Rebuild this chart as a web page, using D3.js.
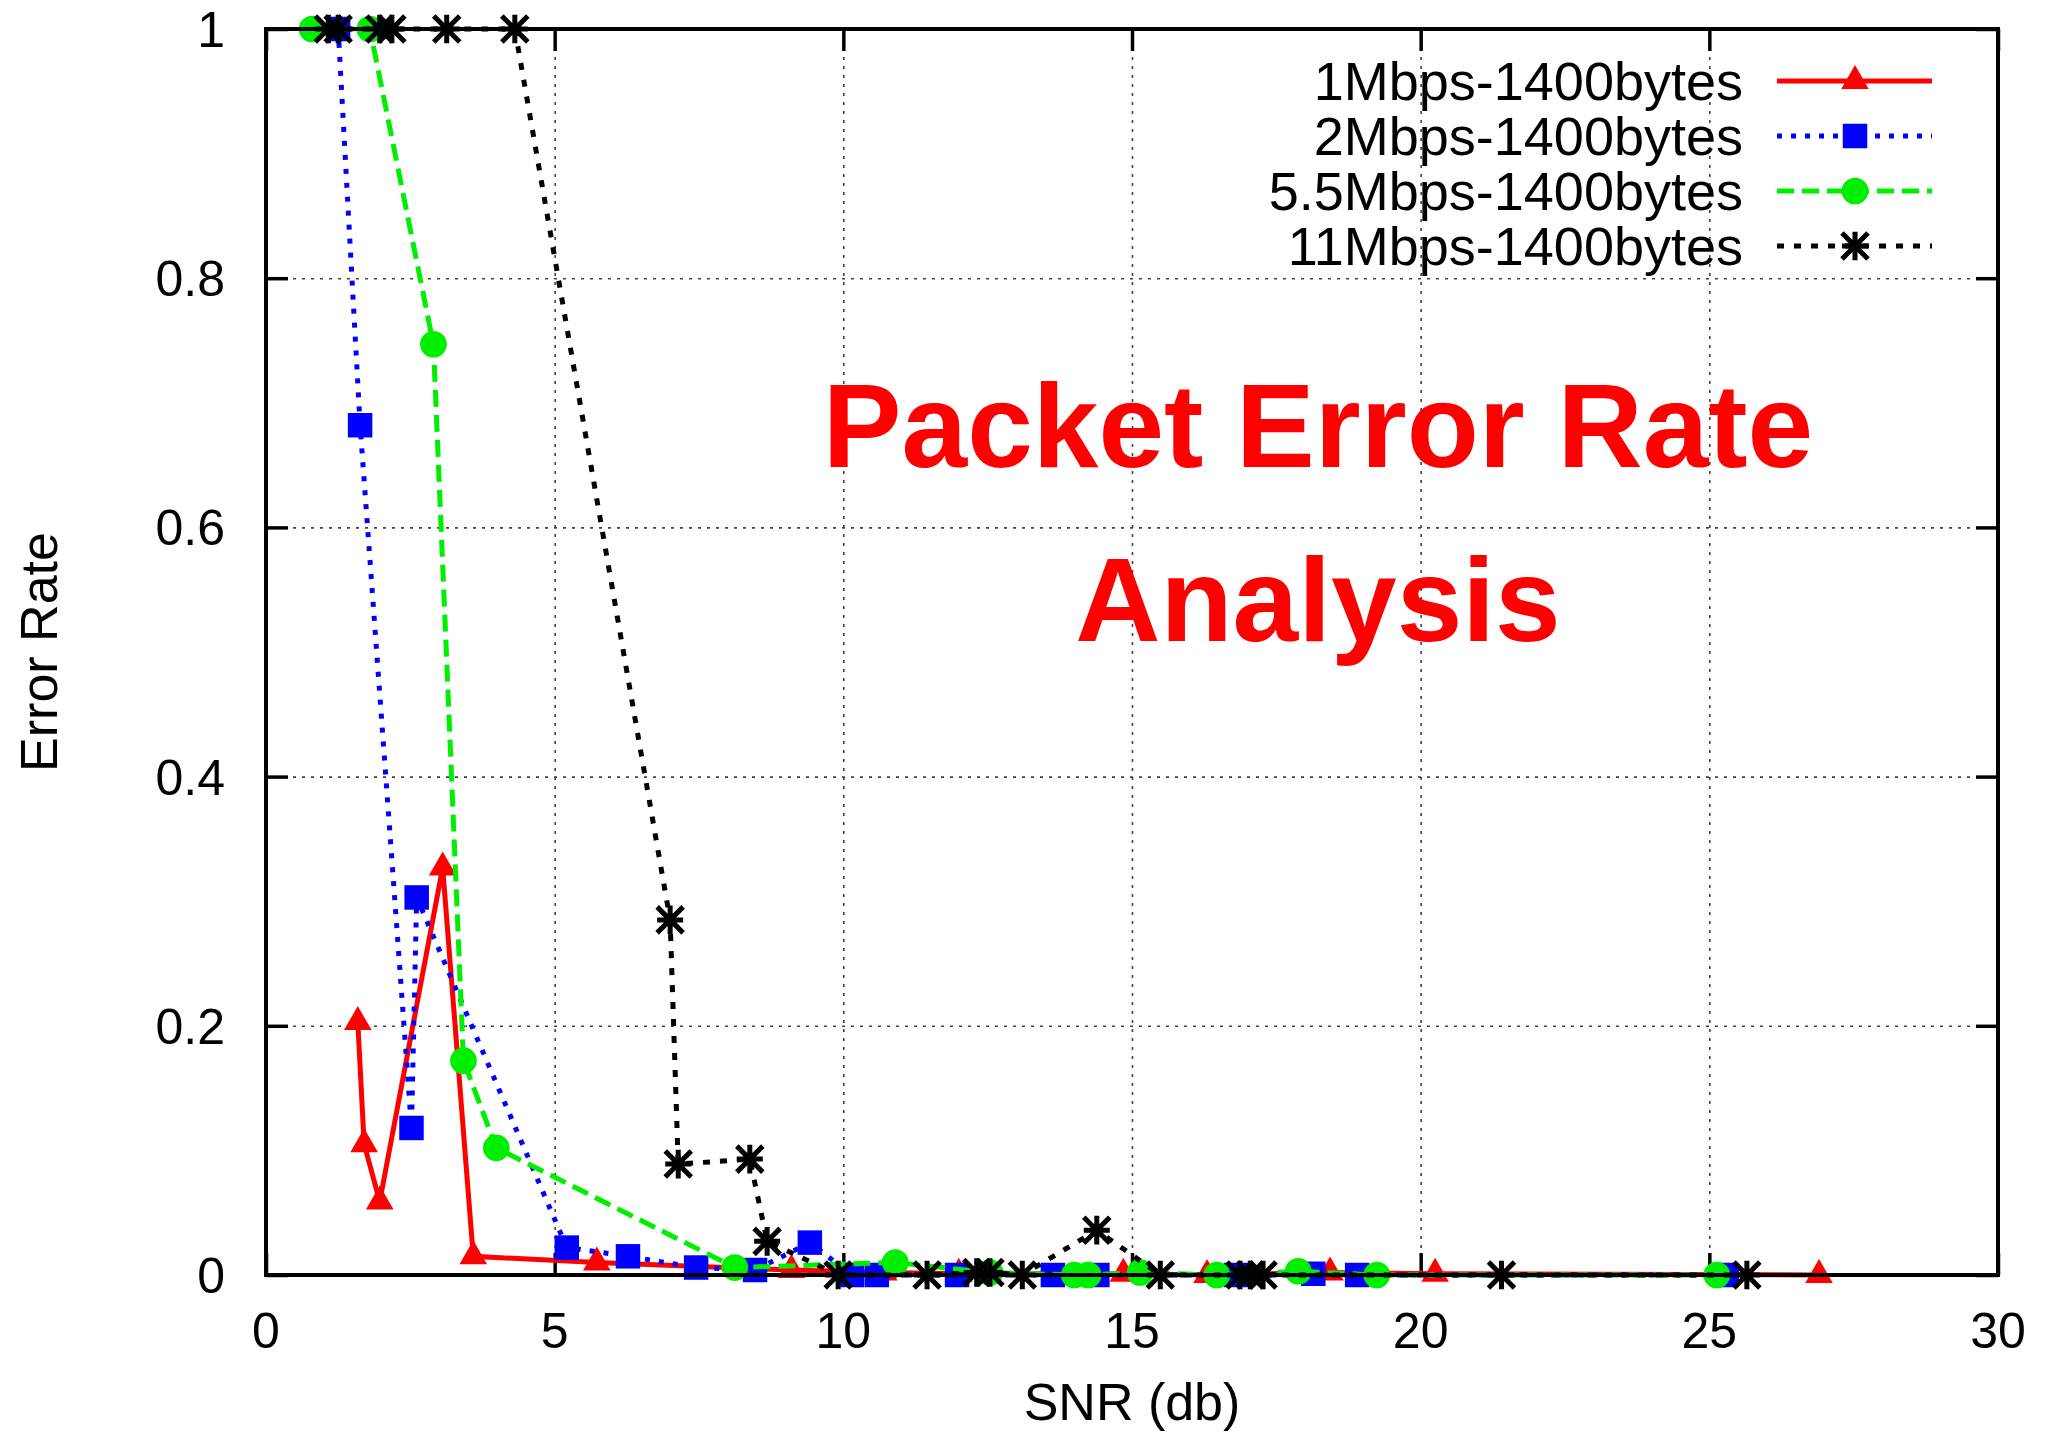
<!DOCTYPE html>
<html>
<head>
<meta charset="utf-8">
<script src="https://cdn.jsdelivr.net/npm/d3@7"></script>
<style>
  html, body { margin: 0; padding: 0; background: #fff; }
  text { font-family: "Liberation Sans", Arial, sans-serif; }
</style>
</head>
<body>
<div id="chart"></div>
<script>
// packet error rate vs SNR, four 802.11b rates, gnuplot look

// axis ticks
const xTicks = [0, 5, 10, 15, 20, 25, 30];
const yTicks = [0, 0.2, 0.4, 0.6, 0.8, 1];

// series names
const seriesNames = ["1Mbps-1400bytes", "2Mbps-1400bytes", "5.5Mbps-1400bytes", "11Mbps-1400bytes"];

// 1Mbps
const snr1 = [1.59, 1.70, 1.97, 3.06, 3.59, 5.73, 9.1, 10.7, 12.0, 14.85, 16.3, 18.43, 20.25, 26.9];
const err1 = [0.203, 0.105, 0.059, 0.327, 0.015, 0.010, 0.004, 0.002, 0.001, 0.001, 0, 0.002, 0.001, 0];

// 2Mbps
const snr2 = [1.25, 1.63, 2.52, 2.61, 5.21, 6.27, 7.45, 8.47, 9.42, 10.15, 10.58, 11.97, 13.63, 14.4, 16.8, 18.14, 18.9, 25.3];
const err2 = [1, 0.682, 0.118, 0.303, 0.022, 0.015, 0.006, 0.004, 0.026, 0, 0, 0, 0, 0, 0, 0.001, 0, 0];

// 5.5Mbps
const snr55 = [0.8, 1.8, 2.9, 3.42, 3.99, 8.12, 10.9, 12.54, 14.0, 14.24, 15.14, 16.47, 17.88, 19.24, 25.13];
const err55 = [1, 1, 0.747, 0.172, 0.102, 0.006, 0.010, 0.002, 0, 0, 0.002, 0, 0.003, 0, 0];

// 11Mbps
const snr11 = [1.08, 1.25, 1.97, 2.18, 3.13, 4.31, 7.0, 7.14, 8.38, 8.68, 9.91, 11.45, 12.31, 12.54, 13.1, 14.39, 15.49, 16.87, 17.05, 17.27, 21.4, 25.65];
const err11 = [1, 1, 1, 1, 1, 1, 0.285, 0.089, 0.093, 0.027, 0, 0, 0.002, 0.002, 0, 0.036, 0, 0, 0, 0, 0, 0];

const W = 2052, H = 1438;
const margin = { top: 29, right: 54, bottom: 163, left: 266 };
const width = W - margin.left - margin.right,
      height = H - margin.top - margin.bottom;

const svg = d3.select("#chart")
    .append("svg")
    .attr("width", W)
    .attr("height", H);

const g = svg.append("g")
    .attr("transform", `translate(${margin.left},${margin.top})`);

const x = d3.scaleLinear().domain([0, 30]).range([0, width]);
const y = d3.scaleLinear().domain([0, 1]).range([height, 0]);

// grid
const gridX = g.append("g")
    .attr("transform", `translate(0,${height})`)
    .call(d3.axisBottom(x).tickValues(xTicks.slice(1, -1)).tickSize(-height).tickFormat(""));
const gridY = g.append("g")
    .call(d3.axisLeft(y).tickValues(yTicks.slice(1, -1)).tickSize(-width).tickFormat(""));
[gridX, gridY].forEach(s => {
    s.select(".domain").remove();
    s.selectAll("line")
        .attr("stroke", "#444")
        .attr("stroke-width", 1.6)
        .attr("stroke-dasharray", "3,6");
});

// inward ticks on all four sides
const tickLen = 22;
const axB = g.append("g").attr("transform", `translate(0,${height})`)
    .call(d3.axisBottom(x).tickValues(xTicks).tickSize(-tickLen).tickFormat(""));
const axT = g.append("g")
    .call(d3.axisTop(x).tickValues(xTicks).tickSize(-tickLen).tickFormat(""));
const axL = g.append("g")
    .call(d3.axisLeft(y).tickValues(yTicks).tickSize(-tickLen).tickFormat(""));
const axR = g.append("g").attr("transform", `translate(${width},0)`)
    .call(d3.axisRight(y).tickValues(yTicks).tickSize(-tickLen).tickFormat(""));
[axB, axT, axL, axR].forEach(s => {
    s.select(".domain").remove();
    s.selectAll("line").attr("stroke", "#000").attr("stroke-width", 3.5);
});

// tick labels
g.append("g").selectAll("text")
    .data(xTicks)
    .enter()
    .append("text")
    .attr("x", d => x(d))
    .attr("y", height + 73)
    .attr("text-anchor", "middle")
    .style("font-size", "50px")
    .text(d => d);

g.append("g").selectAll("text")
    .data(yTicks)
    .enter()
    .append("text")
    .attr("x", -41)
    .attr("y", d => y(d))
    .attr("dy", "0.36em")
    .attr("text-anchor", "end")
    .style("font-size", "50px")
    .text(d => d);

// axis titles
g.append("text")
    .attr("x", x(15))
    .attr("y", height + 145)
    .attr("text-anchor", "middle")
    .style("font-size", "52px")
    .text("SNR (db)");

g.append("text")
    .attr("transform", "rotate(-90)")
    .attr("x", -(y(0.5)))
    .attr("y", -margin.left + 57)
    .attr("text-anchor", "middle")
    .style("font-size", "52px")
    .text("Error Rate");

// big red title
const title = g.append("text")
    .attr("text-anchor", "middle")
    .style("font-size", "118px")
    .style("font-weight", "bold")
    .attr("fill", "#ff0000");
title.append("tspan").attr("x", 1052).attr("y", 438).text("Packet Error Rate");
title.append("tspan").attr("x", 1052).attr("y", 612).text("Analysis");

// series
const series = [
    { name: seriesNames[0], xs: snr1, ys: err1, color: "#ff0000", dash: null, width: 5, symbol: "triangle" },
    { name: seriesNames[1], xs: snr2, ys: err2, color: "#0000ff", dash: "5,9", width: 5, symbol: "square" },
    { name: seriesNames[2], xs: snr55, ys: err55, color: "#00ee00", dash: "17,8", width: 5, symbol: "circle" },
    { name: seriesNames[3], xs: snr11, ys: err11, color: "#000000", dash: "7,10", width: 5, symbol: "star" }
];

const line = d3.line().x(d => x(d[0])).y(d => y(d[1]));

function drawMarker(sel, s) {
    if (s.symbol === "star") {
        const r = 13;
        sel.append("path")
            .attr("d", `M${-r},${-r}L${r},${r}M${-r},${r}L${r},${-r}M0,${-r * 1.1}L0,${r * 1.1}M${-r},0L${r},0`)
            .attr("stroke", s.color)
            .attr("stroke-width", 5)
            .attr("fill", "none");
    } else {
        const type = { triangle: d3.symbolTriangle, square: d3.symbolSquare, circle: d3.symbolCircle }[s.symbol];
        const size = { triangle: 330, square: 600, circle: 560 }[s.symbol];
        sel.append("path")
            .attr("d", d3.symbol().type(type).size(size)())
            .attr("fill", s.color);
    }
}

series.forEach(s => {
    const pts = s.xs.map((v, i) => [v, s.ys[i]]);
    g.append("path")
        .datum(pts)
        .attr("fill", "none")
        .attr("stroke", s.color)
        .attr("stroke-width", s.width)
        .attr("stroke-dasharray", s.dash)
        .attr("d", line);
    g.append("g").selectAll("g")
        .data(pts)
        .enter()
        .append("g")
        .attr("transform", d => `translate(${x(d[0])},${y(d[1])})`)
        .each(function () { drawMarker(d3.select(this), s); });
});

// frame on top
g.append("rect")
    .attr("width", width)
    .attr("height", height)
    .attr("fill", "none")
    .attr("stroke", "#000")
    .attr("stroke-width", 4);

// legend
const legend = g.append("g").attr("transform", "translate(0,52)");
series.forEach((s, i) => {
    const row = legend.append("g").attr("transform", `translate(0,${i * 55})`);
    row.append("text")
        .attr("x", 1477)
        .attr("y", 0)
        .attr("dy", "0.36em")
        .attr("text-anchor", "end")
        .style("font-size", "54px")
        .text(s.name);
    row.append("line")
        .attr("x1", 1511).attr("x2", 1666)
        .attr("stroke", s.color)
        .attr("stroke-width", s.width)
        .attr("stroke-dasharray", s.dash);
    const m = row.append("g").attr("transform", "translate(1589,0)");
    drawMarker(m, s);
});
</script>
</body>
</html>
